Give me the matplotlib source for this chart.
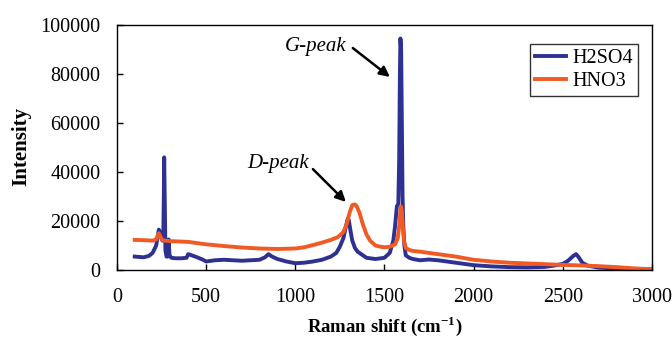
import matplotlib
matplotlib.use("Agg")
import matplotlib.pyplot as plt

# H2SO4 series (Raman shift, intensity)
h2so4_x = [100, 150, 180, 200, 220, 235, 245, 255, 260, 263, 265, 268, 272, 278, 285, 290, 295, 305,
           330, 360, 390, 400, 420, 450, 480, 500, 550, 600, 650, 700, 750, 800, 830, 850, 870, 900,
           950, 1000, 1050, 1100, 1150, 1200, 1230, 1250, 1270, 1285, 1295, 1300, 1310, 1320, 1335,
           1350, 1380, 1400, 1450, 1500, 1530, 1550, 1560, 1570, 1578, 1583, 1587, 1590, 1594, 1598,
           1602, 1606, 1612, 1620, 1640, 1660, 1700, 1750, 1800, 1850, 1900, 2000, 2100, 2200, 2300,
           2400, 2450, 2500, 2530, 2560, 2575, 2590, 2610, 2640, 2700, 2800, 2900, 3000]
h2so4_y = [5500, 5200, 5800, 7000, 10000, 16500, 15000, 12000, 14000, 30000, 46000, 30000, 8000, 5500,
           5500, 12500, 6000, 5000, 4800, 4800, 5000, 6500, 6000, 5200, 4300, 3500, 4000, 4200, 4000,
           3800, 4000, 4200, 5200, 6500, 5500, 4500, 3500, 2800, 3000, 3500, 4200, 5500, 7000, 9500,
           13000, 18000, 21000, 20500, 16000, 12000, 9000, 7500, 6000, 5000, 4500, 5000, 7000, 12000,
           18000, 26000, 27000, 45000, 80000, 94500, 90000, 60000, 30000, 18000, 10000, 6000, 5000, 4500,
           4000, 4300, 4000, 3500, 3000, 2000, 1500, 1200, 1100, 1300, 1800, 2500, 3800, 5800, 6500,
           5200, 3000, 1800, 1000, 600, 400, 300]

# HNO3 series (Raman shift, intensity)
hno3_x = [100, 150, 200, 220, 235, 245, 255, 270, 300, 400, 500, 600, 700, 800, 900, 1000, 1050, 1100,
          1150, 1200, 1240, 1270, 1290, 1305, 1320, 1335, 1345, 1360, 1380, 1400, 1420, 1450, 1480,
          1500, 1530, 1560, 1575, 1585, 1592, 1598, 1603, 1610, 1620, 1640, 1660, 1700, 1800, 1900,
          2000, 2100, 2200, 2300, 2400, 2500, 2600, 2700, 2800, 2900, 3000]
hno3_y = [12300, 12200, 12000, 12500, 15000, 13500, 12200, 12000, 11800, 11500, 10500, 9800, 9200, 8800,
          8600, 8800, 9300, 10200, 11200, 12300, 13500, 15500, 19000, 23500, 26500, 26800, 26000,
          23500, 18500, 14500, 12000, 10000, 9500, 9300, 9500, 10500, 13000, 19000, 26000, 24000,
          18000, 12000, 9000, 8200, 7800, 7500, 6500, 5500, 4200, 3500, 3000, 2700, 2400, 2100, 1900,
          1600, 1200, 700, 300]

x_ticks = [0, 500, 1000, 1500, 2000, 2500, 3000]
y_ticks = [0, 20000, 40000, 60000, 80000, 100000]

plt.rcParams['font.family'] = ['Liberation Serif', 'DejaVu Serif']
plt.rcParams['mathtext.fontset'] = 'custom'
plt.rcParams['mathtext.rm'] = 'Liberation Serif'
plt.rcParams['mathtext.bf'] = 'Liberation Serif:bold'

fig = plt.figure(figsize=(6.72, 3.38), dpi=100)
ax = fig.add_axes([0.174, 0.201, 0.796, 0.725])

ax.plot(h2so4_x, h2so4_y, color='#2e3192', lw=2.8, label='H2SO4', solid_joinstyle='round')
ax.plot(hno3_x, hno3_y, color='#f15a24', lw=2.8, label='HNO3', solid_joinstyle='round')

ax.set_xlim(0, 3000)
ax.set_ylim(0, 100000)
ax.set_xticks(x_ticks)
ax.set_yticks(y_ticks)
ax.tick_params(labelsize=14.5, direction='in', length=4, width=1)
ax.tick_params(axis='x', pad=13)
ax.tick_params(axis='y', pad=12)
for s in ax.spines.values():
    s.set_linewidth(1.0)

ax.set_xlabel('Raman shift (cm$^{\\mathbf{-1}}$)', fontsize=13.5, fontweight='bold', va='center')
ax.xaxis.set_label_coords(0.501, -0.230)
ax.set_ylabel('Intensity', fontsize=15, fontweight='bold', va='center', ha='center')
ax.yaxis.set_label_coords(-0.178, 0.506)

ax.text(1116, 91400, 'G-peak', fontsize=15, style='italic', ha='center', va='center')
ax.annotate('', xy=(1531, 78800), xytext=(1323, 90600),
            arrowprops=dict(arrowstyle='-|>', color='black', lw=1.8, mutation_scale=15,
                            shrinkA=0, shrinkB=0))
ax.text(903, 43300, 'D-peak', fontsize=15, style='italic', ha='center', va='center')
ax.annotate('', xy=(1284, 27800), xytext=(1099, 41200),
            arrowprops=dict(arrowstyle='-|>', color='black', lw=1.8, mutation_scale=15,
                            shrinkA=0, shrinkB=0))

leg = ax.legend(loc='upper right', bbox_to_anchor=(0.974, 0.922), borderaxespad=0, fontsize=14.5,
                frameon=True, fancybox=False, edgecolor='black', handlelength=1.55, borderpad=0.25,
                labelspacing=0.2, handletextpad=0.3)
leg.get_frame().set_linewidth(1.0)

fig.savefig('out.png', dpi=100)
